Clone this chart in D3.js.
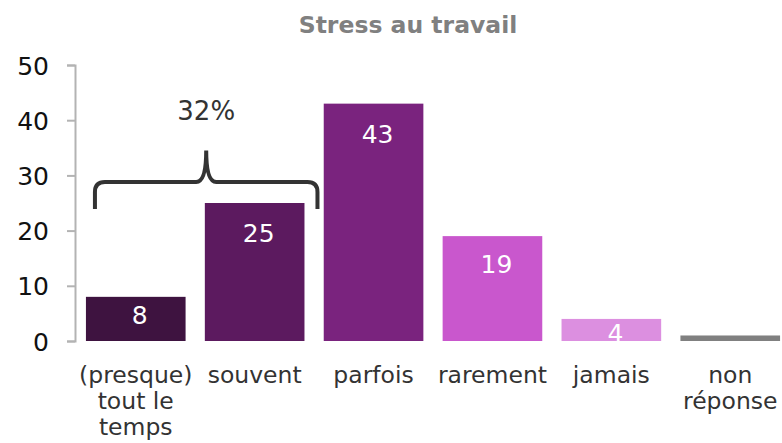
<html lang="fr">
	<head>
		<meta charset="utf-8">
		<title>Stress au travail</title>
		<script src="https://d3js.org/d3.v7.min.js"></script>
		<style type="text/css">
			body {
				margin: 0;
				background-color: white;
			}
			text {
				font-family: "DejaVu Sans", Verdana, sans-serif;
			}
		</style>
	</head>
	<body>
		<script type="text/javascript">

			//Data
			var categories = [["(presque)", "tout le", "temps"], ["souvent"], ["parfois"], ["rarement"], ["jamais"], ["non", "réponse"]];
			var values = [8, 25, 43, 19, 4, 1];
			var colors = ["#3e1340", "#5c1a5f", "#7a237e", "#c957cd", "#dc8fe0", "#808080"];
			var yTicks = [0, 10, 20, 30, 40, 50];
			var groupLabel = "32%";
			var groupIdx = [0, 1];

			var w = 782;
			var h = 443;

			var xScale = d3.scaleBand()
					.domain(d3.range(values.length))
					.range([75, 791])
					.paddingInner(0.162)
					.paddingOuter(0.092);

			var yScale = d3.scaleLinear()
					.domain([0, 50])
					.range([341, 65]);

			var svg = d3.select("body")
						.append("svg")
						.attr("width", w)
						.attr("height", h);

			//Title
			svg.append("text")
				.attr("x", 408)
				.attr("y", 33)
				.attr("text-anchor", "middle")
				.attr("font-size", "23.5px")
				.attr("font-weight", "bold")
				.attr("fill", "#808080")
				.text("Stress au travail");

			//Y axis
			var yAxis = d3.axisLeft()
					.scale(yScale)
					.tickValues(yTicks)
					.tickSize(8)
					.tickPadding(18);

			var gy = svg.append("g")
				.attr("transform", "translate(75,0)")
				.call(yAxis);
			gy.select(".domain").attr("stroke", "#b3b3b3").attr("stroke-width", 2);
			gy.selectAll(".tick line").attr("stroke", "#b3b3b3").attr("stroke-width", 2);
			gy.selectAll(".tick text")
				.attr("font-size", "25px")
				.attr("fill", "#111")
				.attr("dy", "0.36em")
				.style("font-family", "'DejaVu Sans', Verdana, sans-serif");

			//Bars
			svg.selectAll("rect.bar")
			   .data(values)
			   .enter()
			   .append("rect")
			   .attr("class", "bar")
			   .attr("x", function(d, i) { return xScale(i); })
			   .attr("y", function(d) { return yScale(d); })
			   .attr("width", xScale.bandwidth())
			   .attr("height", function(d) { return yScale(0) - yScale(d); })
			   .attr("fill", function(d, i) { return colors[i]; });

			//Value labels (not for the last, tiny one)
			svg.selectAll("text.val")
			   .data(values.slice(0, 5))
			   .enter()
			   .append("text")
			   .attr("class", "val")
			   .attr("x", function(d, i) { return xScale(i) + xScale.bandwidth() / 2 + 4; })
			   .attr("y", function(d) {
			   		var top = yScale(d), bh = yScale(0) - top;
			   		return top + Math.min(39, 20 + bh * 0.16);
			   })
			   .attr("text-anchor", "middle")
			   .attr("font-size", "25px")
			   .attr("fill", "white")
			   .text(function(d) { return d; });

			//Category labels
			var cats = svg.selectAll("text.cat")
			   .data(categories)
			   .enter()
			   .append("text")
			   .attr("class", "cat")
			   .attr("text-anchor", "middle")
			   .attr("font-size", "23.5px")
			   .attr("fill", "#333");
			cats.each(function(lines, i) {
				d3.select(this).selectAll("tspan")
					.data(lines)
					.enter()
					.append("tspan")
					.attr("x", Math.min(xScale(i) + xScale.bandwidth() / 2, 732))
					.attr("y", function(l, j) { return 383 + j * 26; })
					.text(function(l) { return l; });
			});

			//Brace over the first two bars
			var bx0 = xScale(groupIdx[0]) + 9;
			var bx1 = xScale(groupIdx[1]) + xScale.bandwidth() + 13;
			var bm = (bx0 + bx1) / 2;
			var by = yScale(28.8);
			var bEnd = yScale(23.9);
			var bTip = yScale(34.5);
			var r = 10;
			var brace = "M" + bx0 + "," + bEnd +
				" L" + bx0 + "," + (by + r) +
				" Q" + bx0 + "," + by + " " + (bx0 + r) + "," + by +
				" L" + (bm - r) + "," + by +
				" Q" + bm + "," + by + " " + bm + "," + bTip +
				" Q" + bm + "," + by + " " + (bm + r) + "," + by +
				" L" + (bx1 - r) + "," + by +
				" Q" + bx1 + "," + by + " " + bx1 + "," + (by + r) +
				" L" + bx1 + "," + bEnd;
			svg.append("path")
				.attr("d", brace)
				.attr("fill", "none")
				.attr("stroke", "#333")
				.attr("stroke-width", 4);

			svg.append("text")
				.attr("x", bm)
				.attr("y", 120)
				.attr("text-anchor", "middle")
				.attr("font-size", "26px")
				.attr("fill", "#333")
				.text(groupLabel);

		</script>
	</body>
</html>
